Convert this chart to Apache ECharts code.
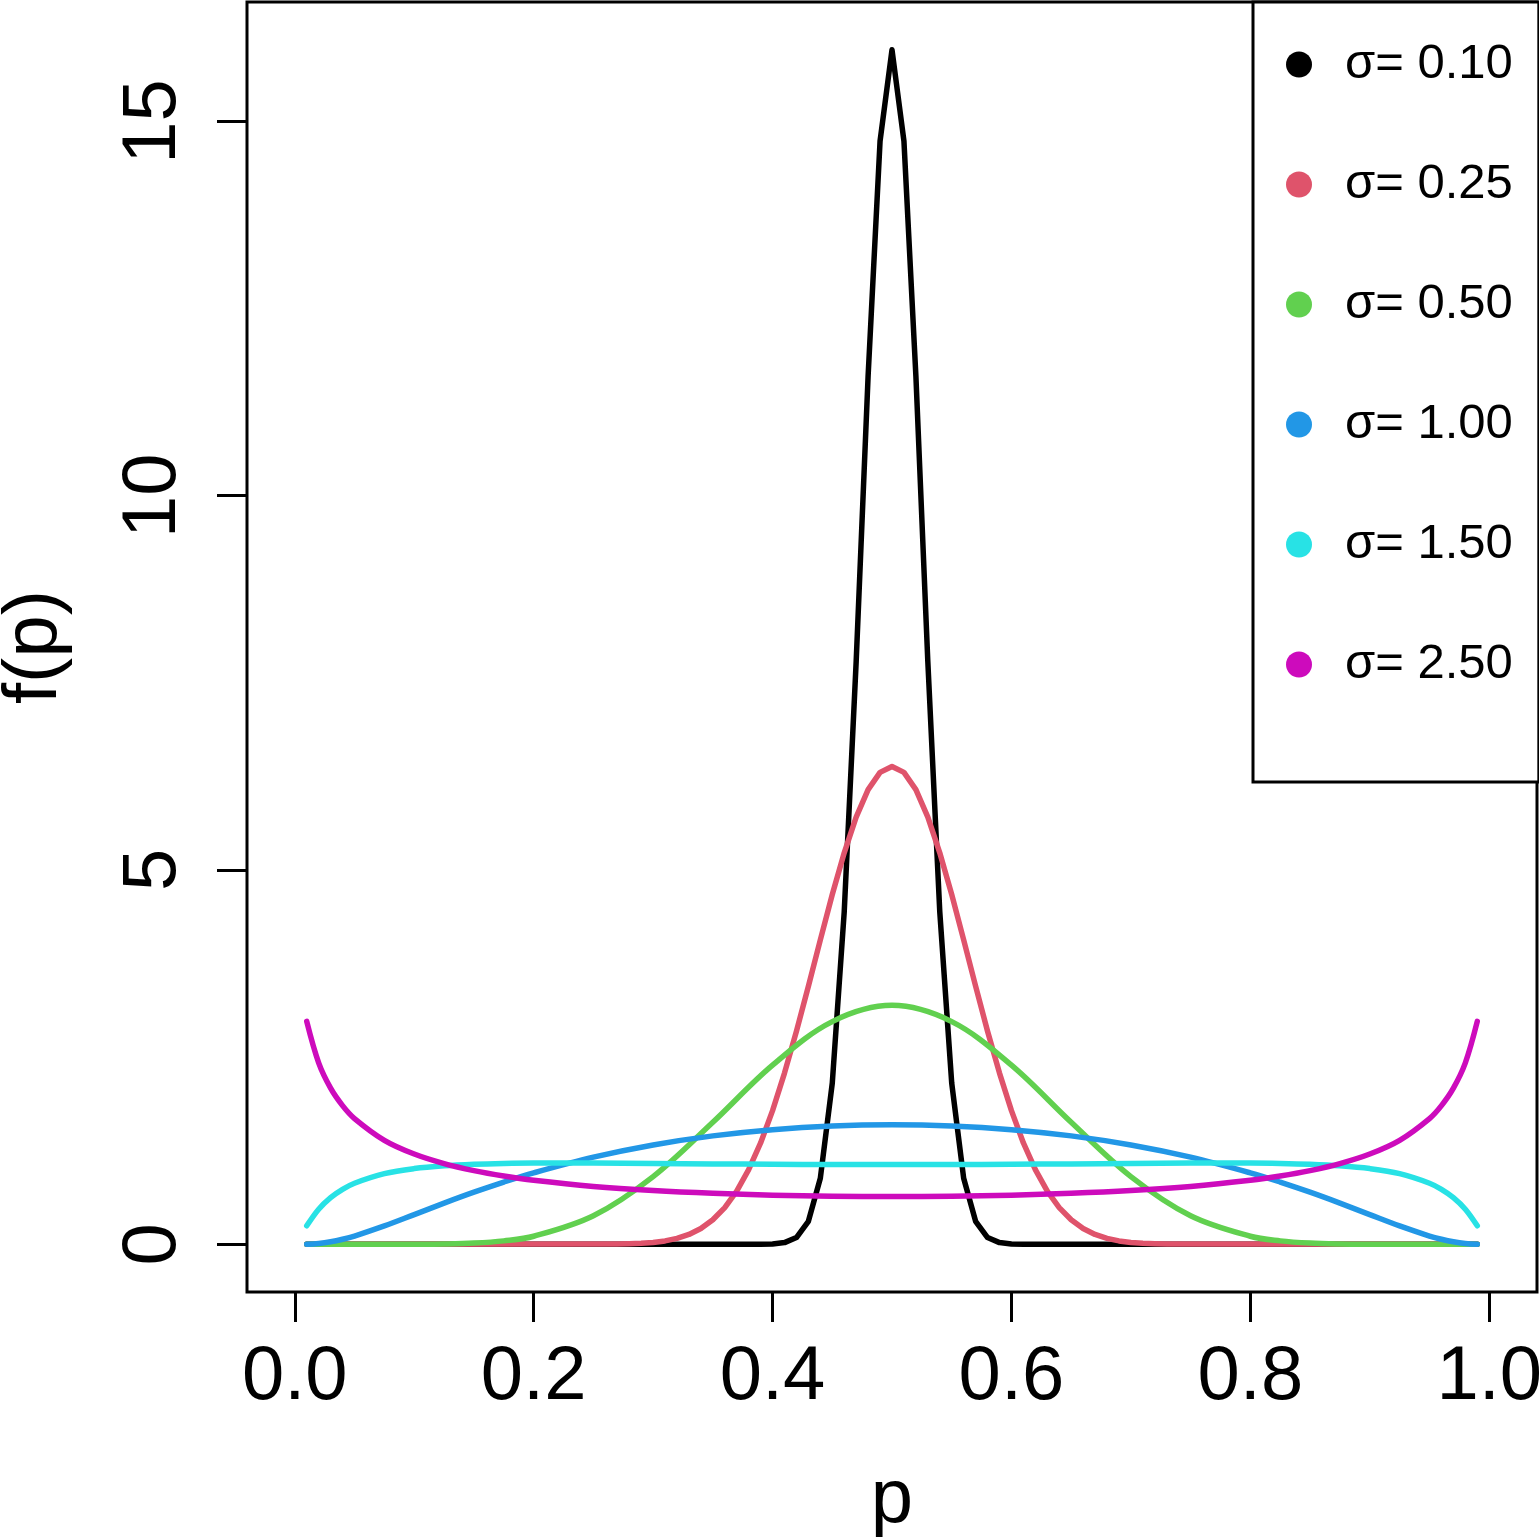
<!DOCTYPE html>
<html>
<head>
<meta charset="utf-8">
<script src="https://cdn.jsdelivr.net/npm/echarts@6/dist/echarts.min.js"></script>
<style>
  html, body { margin: 0; padding: 0; background: #fff; }
  #chart { width: 1539px; height: 1537px; }
</style>
</head>
<body>
<div id="chart"></div>
<script>
const FONT = '"Liberation Sans", Arial, Helvetica, sans-serif';

// legend labels and colours (R default palette)
const names = ['σ= 0.10', 'σ= 0.25', 'σ= 0.50', 'σ= 1.00', 'σ= 1.50', 'σ= 2.50'];
const colors = ['#000000', '#DF536B', '#61D04F', '#2297E6', '#28E2E5', '#CD0BBC'];

// tick labels
const xTicks = [0, 0.2, 0.4, 0.6, 0.8, 1.0];
const yTicks = [0, 5, 10, 15];

// sigma = 0.10 (sharp peak, step 0.01 around the centre)
const pBlack = [0.01,
  0.38, 0.39, 0.40, 0.41, 0.42, 0.43, 0.44, 0.45, 0.46, 0.47, 0.48, 0.49, 0.50,
  0.51, 0.52, 0.53, 0.54, 0.55, 0.56, 0.57, 0.58, 0.59, 0.60, 0.61, 0.62,
  0.99];
const fBlack = [0,
  0.0001, 0.0008, 0.0045, 0.0219, 0.0894, 0.306, 0.882, 2.152, 4.44, 7.782, 11.601, 14.737, 15.958,
  14.737, 11.601, 7.782, 4.44, 2.152, 0.882, 0.306, 0.0894, 0.0219, 0.0045, 0.0008, 0.0001,
  0];

// sigma = 0.25
const pRed = [0.01,
  0.27, 0.28, 0.29, 0.30, 0.31, 0.32, 0.33, 0.34, 0.35, 0.36, 0.37, 0.38,
  0.39, 0.40, 0.41, 0.42, 0.43, 0.44, 0.45, 0.46, 0.47, 0.48, 0.49, 0.50,
  0.51, 0.52, 0.53, 0.54, 0.55, 0.56, 0.57, 0.58, 0.59, 0.60, 0.61, 0.62,
  0.63, 0.64, 0.65, 0.66, 0.67, 0.68, 0.69, 0.70, 0.71, 0.72, 0.73,
  0.99];
const fRed = [0,
  0.003, 0.0063, 0.0127, 0.0243, 0.0445, 0.0779, 0.1306, 0.2106, 0.3269, 0.4902, 0.71, 0.9957,
  1.3533, 1.7847, 2.2862, 2.8462, 3.4476, 4.0663, 4.6718, 5.2298, 5.7074, 6.0739, 6.3044, 6.3831,
  6.3044, 6.0739, 5.7074, 5.2298, 4.6718, 4.0663, 3.4476, 2.8462, 2.2862, 1.7847, 1.3533, 0.9957,
  0.71, 0.4902, 0.3269, 0.2106, 0.1306, 0.0779, 0.0445, 0.0243, 0.0127, 0.0063, 0.003,
  0];

// smoother curves share one grid of p
const pSmooth = [0.01, 0.02, 0.03, 0.04, 0.05, 0.075, 0.1, 0.125, 0.15, 0.175, 0.2, 0.25, 0.3, 0.35, 0.4, 0.45,
  0.5,
  0.55, 0.6, 0.65, 0.7, 0.75, 0.8, 0.825, 0.85, 0.875, 0.9, 0.925, 0.95, 0.96, 0.97, 0.98, 0.99];
const fGreen = [0, 0, 0, 0, 0, 0, 0.0006, 0.0038, 0.0152, 0.0451, 0.1068, 0.3807, 0.904, 1.6297, 2.3928, 2.9743,
  3.1915,
  2.9743, 2.3928, 1.6297, 0.904, 0.3807, 0.1068, 0.0451, 0.0152, 0.0038, 0.0006, 0, 0, 0, 0, 0, 0];
const fBlue = [0.0011, 0.0105, 0.0326, 0.0666, 0.11, 0.2451, 0.3966, 0.5492, 0.6951, 0.8305, 0.9538, 1.1636, 1.3267, 1.4478, 1.5311, 1.5798,
  1.5958,
  1.5798, 1.5311, 1.4478, 1.3267, 1.1636, 0.9538, 0.8305, 0.6951, 0.5492, 0.3966, 0.2451, 0.11, 0.0666, 0.0326, 0.0105, 0.0011];
const fCyan = [0.2462, 0.4686, 0.6233, 0.734, 0.8154, 0.9428, 1.0107, 1.0483, 1.0689, 1.0797, 1.0844, 1.0847, 1.0797, 1.0737, 1.0684, 1.065,
  1.0638,
  1.065, 1.0684, 1.0737, 1.0797, 1.0847, 1.0844, 1.0797, 1.0689, 1.0483, 1.0107, 0.9428, 0.8154, 0.734, 0.6233, 0.4686, 0.2462];
const fMagenta = [2.9768, 2.4238, 2.0857, 1.8524, 1.6791, 1.3883, 1.2051, 1.0777, 0.9839, 0.9119, 0.8552, 0.7727, 0.7175, 0.6803, 0.6562, 0.6427,
  0.6383,
  0.6427, 0.6562, 0.6803, 0.7175, 0.7727, 0.8552, 0.9119, 0.9839, 1.0777, 1.2051, 1.3883, 1.6791, 1.8524, 2.0857, 2.4238, 2.9768];

const curves = [
  { x: pBlack, y: fBlack, smooth: false },
  { x: pRed, y: fRed, smooth: false },
  { x: pSmooth, y: fGreen, smooth: 0.35 },
  { x: pSmooth, y: fBlue, smooth: 0.35 },
  { x: pSmooth, y: fCyan, smooth: 0.35 },
  { x: pSmooth, y: fMagenta, smooth: 0.35 }
];

const chart = echarts.init(document.getElementById('chart'));

const option = {
  animation: false,
  backgroundColor: '#fff',
  grid: {
    left: 247, top: 2, width: 1290, height: 1290,
    outerBoundsMode: 'none', containLabel: false,
    show: true, borderColor: '#000', borderWidth: 3, backgroundColor: 'transparent'
  },
  xAxis: {
    type: 'value',
    min: -0.04, max: 1.04,
    name: 'p', nameLocation: 'middle', nameGap: 171,
    nameTextStyle: { fontSize: 76, color: '#000', fontFamily: FONT },
    axisLine: { show: false, onZero: false },
    splitLine: { show: false },
    axisTick: { show: true, inside: false, length: 30, customValues: xTicks,
      lineStyle: { color: '#000', width: 3 } },
    axisLabel: { show: true, customValues: xTicks, margin: 48, fontSize: 76, color: '#000', fontFamily: FONT,
      formatter: v => v.toFixed(1) }
  },
  yAxis: {
    type: 'value',
    min: -0.638, max: 16.596,
    name: 'f(p)', nameLocation: 'middle', nameGap: 174, nameRotate: 90,
    nameTextStyle: { fontSize: 76, color: '#000', fontFamily: FONT },
    axisLine: { show: false, onZero: false },
    splitLine: { show: false },
    axisTick: { show: true, inside: false, length: 30, customValues: yTicks,
      lineStyle: { color: '#000', width: 3 } },
    axisLabel: { show: true, customValues: yTicks, rotate: 90, margin: 55, fontSize: 76, color: '#000', fontFamily: FONT,
      formatter: v => String(v) }
  },
  legend: {
    orient: 'vertical', left: 1253, top: 2,
    padding: [38, 26, 93, 33],
    itemWidth: 26, itemHeight: 26, itemGap: 71,
    icon: 'circle',
    selectedMode: false,
    borderColor: '#000', borderWidth: 3, backgroundColor: '#fff',
    textStyle: { fontSize: 49, lineHeight: 49, color: '#000', fontFamily: FONT, padding: [0, 0, 0, 28] },
    data: names
  },
  series: curves.map((c, i) => ({
    name: names[i],
    type: 'line',
    data: c.x.map((p, k) => [p, c.y[k]]),
    smooth: c.smooth,
    showSymbol: false,
    symbol: 'none',
    color: colors[i],
    lineStyle: { color: colors[i], width: 5.5, cap: 'round', join: 'round' }
  }))
};

chart.setOption(option);
</script>
</body>
</html>
